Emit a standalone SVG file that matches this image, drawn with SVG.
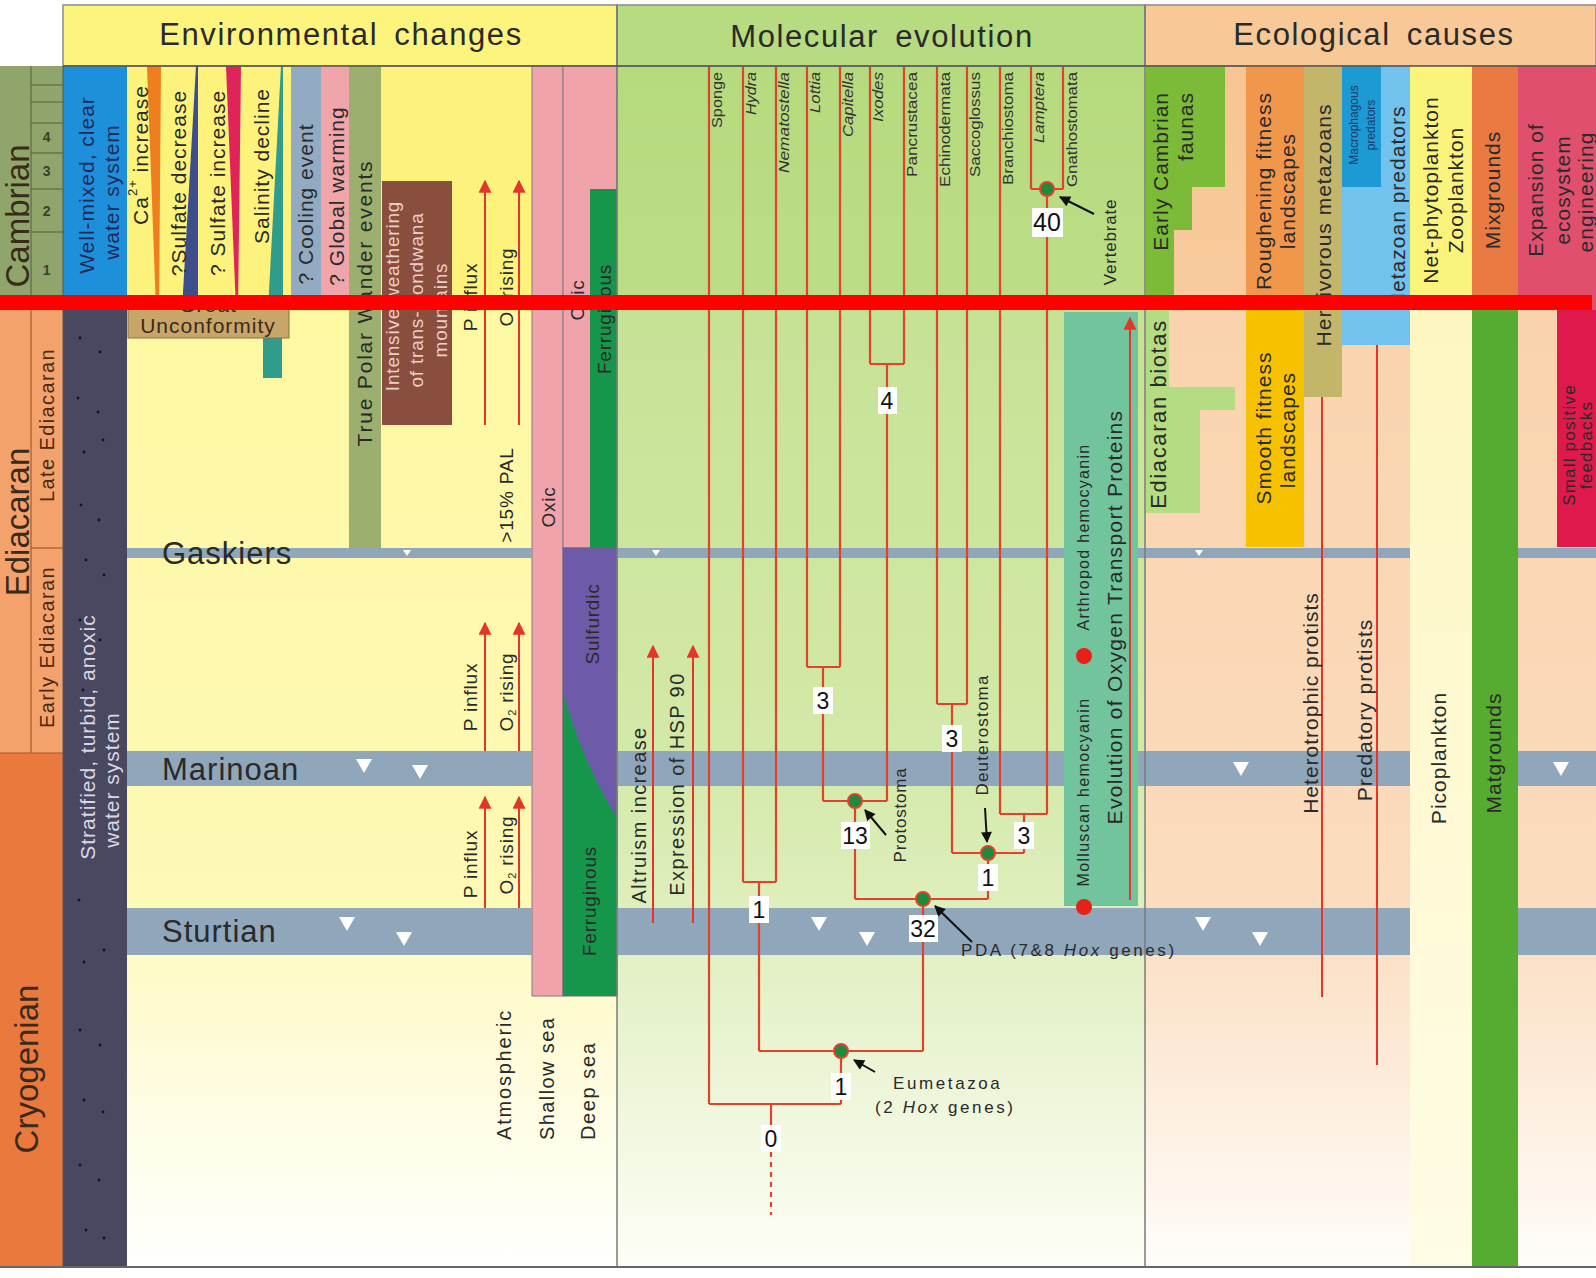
<svg xmlns="http://www.w3.org/2000/svg" width="1596" height="1278" viewBox="0 0 1596 1278">
<style>
  text { font-family: "Liberation Sans", Arial, Helvetica, sans-serif; fill: #2a2a2a; }
  .v { text-anchor: middle; dominant-baseline: central; }
  .ve { text-anchor: end; dominant-baseline: central; }
  .vs { text-anchor: start; dominant-baseline: central; }
  .hdr { font-size: 31px; letter-spacing: 1.6px; word-spacing: 6px; }
  .per { font-size: 33px; fill: #3a2a1a; }
  .glac { font-size: 31px; letter-spacing: 1px; fill: #2a2a2a; }
  .t21 { font-size: 21px; letter-spacing: 1px; }
  .t19 { font-size: 19px; letter-spacing: 0.8px; }
  .t17 { font-size: 17px; letter-spacing: 0.8px; }
  .t14 { font-size: 14px; letter-spacing: 0.6px; }
  .lbl { font-size: 17px; letter-spacing: 2.6px; }
  .bot { font-size: 20px; letter-spacing: 1.8px; }
  .taxon { font-size: 14px; fill: #333; }
  .num { font-size: 23px; text-anchor: middle; fill: #111; }
  .navy { fill: #1d2a58; }
  .pale { fill: #d8d8e2; }
  .box { fill: #ffffff; }
  .band { fill: #8fa6bb; }
  .tree { fill: none; stroke: #e0432c; stroke-width: 2.2; }
  .redln { fill: none; stroke: #e4352a; stroke-width: 2; }
  .blk { fill: none; stroke: #111; stroke-width: 2; }
  .node { fill: #1e8a3c; stroke: #e0432c; stroke-width: 2; }
  .sep { stroke: #7a7a7a; stroke-width: 1.5; }
  .tri { fill: #ffffff; }
  .dot { fill: #15131c; }
</style>
<defs>
  <marker id="redHeadL" viewBox="0 0 10 10" refX="9" refY="5" markerWidth="16" markerHeight="13" orient="auto" markerUnits="userSpaceOnUse">
    <path d="M0 0 L10 5 L0 10 Z" fill="#e4352a"/>
  </marker>
  <marker id="blkHead" viewBox="0 0 10 10" refX="9" refY="5" markerWidth="13" markerHeight="11" orient="auto" markerUnits="userSpaceOnUse">
    <path d="M0 0 L10 5 L0 10 Z" fill="#111"/>
  </marker>
  <linearGradient id="envBg" gradientUnits="userSpaceOnUse" x1="0" y1="67" x2="0" y2="1267">
    <stop offset="0" stop-color="#fcf27c"/>
    <stop offset="0.2" stop-color="#fcf27c"/>
    <stop offset="0.205" stop-color="#fdf8a2"/>
    <stop offset="0.69" stop-color="#fdf9b6"/>
    <stop offset="0.78" stop-color="#fefbd0"/>
    <stop offset="1" stop-color="#ffffff"/>
  </linearGradient>
  <linearGradient id="molBg" gradientUnits="userSpaceOnUse" x1="0" y1="67" x2="0" y2="1267">
    <stop offset="0" stop-color="#b6da7e"/>
    <stop offset="0.2" stop-color="#bcdd86"/>
    <stop offset="0.205" stop-color="#c6e295"/>
    <stop offset="0.57" stop-color="#d3e9a8"/>
    <stop offset="0.745" stop-color="#e2f0c4"/>
    <stop offset="1" stop-color="#fdfef6"/>
  </linearGradient>
  <linearGradient id="ecoBg" gradientUnits="userSpaceOnUse" x1="0" y1="67" x2="0" y2="1267">
    <stop offset="0" stop-color="#f7c593"/>
    <stop offset="0.2" stop-color="#f8cb9e"/>
    <stop offset="0.205" stop-color="#f9d3ad"/>
    <stop offset="0.7" stop-color="#fbdcbe"/>
    <stop offset="1" stop-color="#fffdfa"/>
  </linearGradient>
  <linearGradient id="picoBg" gradientUnits="userSpaceOnUse" x1="0" y1="310" x2="0" y2="1267">
    <stop offset="0" stop-color="#fdf6c0"/>
    <stop offset="1" stop-color="#fffce6"/>
  </linearGradient>
</defs>

<rect x="0" y="0" width="1596" height="1278" fill="#ffffff"/>

<!-- section backgrounds -->
<g id="backgrounds">
  <rect x="127" y="66" width="490" height="1201" fill="url(#envBg)"/>
  <rect x="617" y="66" width="528" height="1201" fill="url(#molBg)"/>
  <rect x="1145" y="66" width="451" height="1201" fill="url(#ecoBg)"/>
</g>

<!-- column headers -->
<g id="headers">
  <rect x="63" y="5" width="554" height="61" fill="#fdf47e" stroke="#8a8a8a" stroke-width="1.5"/>
  <rect x="617" y="5" width="528" height="61" fill="#b7db80" stroke="#8a8a8a" stroke-width="1.5"/>
  <rect x="1145" y="5" width="451" height="61" fill="#f8c896" stroke="#8a8a8a" stroke-width="1.5"/>
  <text class="hdr" x="341" y="45" text-anchor="middle">Environmental changes</text>
  <text class="hdr" x="882" y="47" text-anchor="middle">Molecular evolution</text>
  <text class="hdr" x="1374" y="45" text-anchor="middle">Ecological causes</text>
</g>

<!-- geological time scale -->
<g id="timescale">
  <rect x="0" y="66" width="63" height="244" fill="#8fa56b"/>
  <rect x="0" y="310" width="63" height="443" fill="#f3a26c"/>
  <rect x="0" y="753" width="63" height="514" fill="#e9793d"/>
  <g stroke="#5e6a44" stroke-width="1.2">
    <line x1="31" y1="66" x2="31" y2="310"/>
    <line x1="31" y1="85" x2="63" y2="85"/>
    <line x1="31" y1="102" x2="63" y2="102"/>
    <line x1="31" y1="123" x2="63" y2="123"/>
    <line x1="31" y1="153" x2="63" y2="153"/>
    <line x1="31" y1="189" x2="63" y2="189"/>
    <line x1="31" y1="232" x2="63" y2="232"/>
  </g>
  <g stroke="#a85a2e" stroke-width="1.2">
    <line x1="31" y1="310" x2="31" y2="753"/>
    <line x1="31" y1="548" x2="63" y2="548"/>
    <line x1="0" y1="753" x2="63" y2="753"/>
  </g>
  <text class="t14" x="47" y="142" text-anchor="middle" style="font-weight:bold;fill:#3d4030">4</text>
  <text class="t14" x="47" y="176" text-anchor="middle" style="font-weight:bold;fill:#3d4030">3</text>
  <text class="t14" x="47" y="216" text-anchor="middle" style="font-weight:bold;fill:#3d4030">2</text>
  <text class="t14" x="47" y="275" text-anchor="middle" style="font-weight:bold;fill:#3d4030">1</text>
  <text class="per v" transform="translate(17 216) rotate(-90)">Cambrian</text>
  <text class="per v" transform="translate(17 522) rotate(-90)">Ediacaran</text>
  <text class="per v" transform="translate(26 1069) rotate(-90)">Cryogenian</text>
  <text class="v" transform="translate(47 425) rotate(-90)" style="font-size:20px;letter-spacing:1.4px;fill:#4a2a14">Late Ediacaran</text>
  <text class="v" transform="translate(47 647) rotate(-90)" style="font-size:20px;letter-spacing:1.4px;fill:#4a2a14">Early Ediacaran</text>
</g>

<!-- environmental changes: water-column states -->
<g id="water-system">
  <rect x="63" y="66" width="64" height="244" fill="#1e90db"/>
  <rect x="63" y="310" width="64" height="957" fill="#4a4760"/>
  <g class="dot">
    <circle cx="80" cy="338" r="1.4"/><circle cx="100" cy="352" r="1.4"/><circle cx="78" cy="398" r="1.4"/>
    <circle cx="98" cy="412" r="1.4"/><circle cx="84" cy="452" r="1.4"/><circle cx="103" cy="440" r="1.4"/>
    <circle cx="81" cy="505" r="1.4"/><circle cx="99" cy="520" r="1.4"/><circle cx="86" cy="560" r="1.4"/>
    <circle cx="104" cy="575" r="1.4"/><circle cx="80" cy="620" r="1.4"/><circle cx="100" cy="640" r="1.4"/>
    <circle cx="83" cy="690" r="1.4"/><circle cx="79" cy="900" r="1.4"/><circle cx="84" cy="962" r="1.4"/>
    <circle cx="104" cy="950" r="1.4"/><circle cx="80" cy="1030" r="1.4"/><circle cx="100" cy="1045" r="1.4"/>
    <circle cx="84" cy="1100" r="1.4"/><circle cx="103" cy="1112" r="1.4"/><circle cx="80" cy="1165" r="1.4"/>
    <circle cx="99" cy="1180" r="1.4"/><circle cx="86" cy="1230" r="1.4"/><circle cx="104" cy="1238" r="1.4"/>
  </g>
  <text class="t21 v navy" transform="translate(86 185) rotate(-90)">Well-mixed, clear</text>
  <text class="t21 v navy" transform="translate(111 192) rotate(-90)">water system</text>
  <text class="t21 v pale" transform="translate(87 737) rotate(-90)">Stratified, turbid, anoxic</text>
  <text class="t21 v pale" transform="translate(111 780) rotate(-90)">water system</text>
</g>

<!-- environmental changes: Cambrian seawater chemistry and climate -->
<g id="seawater-chemistry">
  <polygon points="147,66 161,66 159,310 156,310" fill="#ef7f1e"/>
  <polygon points="196,66 198,66 198,310 182,310" fill="#3d4d8d"/>
  <polygon points="226,66 241,66 238,310 236,310" fill="#e0245a"/>
  <polygon points="281,66 283,66 283,310 268,310" fill="#2f9c8c"/>
  <rect x="263" y="310" width="19" height="68" fill="#2f9c8c"/>
  <rect x="291" y="66" width="30" height="244" fill="#93abc2"/>
  <rect x="321" y="66" width="28" height="244" fill="#f0a5aa"/>
  <text class="t21 v" transform="translate(140 155) rotate(-90)">Ca<tspan font-size="13" baseline-shift="super">2+</tspan> increase</text>
  <text class="t21 v" transform="translate(178 183) rotate(-90)">?Sulfate decrease</text>
  <text class="t21 v" transform="translate(217 183) rotate(-90)">? Sulfate increase</text>
  <text class="t21 v" transform="translate(261 166) rotate(-90)">Salinity decline</text>
  <text class="t21 v" transform="translate(305 204) rotate(-90)">? Cooling event</text>
  <text class="t21 v" transform="translate(336 196) rotate(-90)">? Global warming</text>
</g>

<g id="polar-wander">
  <rect x="349" y="66" width="32" height="482" fill="#9caf6e"/>
  <text class="t21 v" transform="translate(364 303) rotate(-90)" style="letter-spacing:1.8px">True Polar Wander events</text>
</g>

<g id="weathering">
  <rect x="382" y="181" width="70" height="244" fill="#8a4e3e"/>
  <text class="t19 v" transform="translate(392 296) rotate(-90)" style="fill:#ead0c8">Intensive weathering</text>
  <text class="t19 v" transform="translate(416 300) rotate(-90)" style="fill:#ead0c8">of trans-Gondwana</text>
  <text class="t19 v" transform="translate(440 310) rotate(-90)" style="fill:#ead0c8">mountains</text>
</g>

<g id="great-unconformity">
  <rect x="128" y="296" width="161" height="42" fill="#c8a66a" stroke="#8a7040" stroke-width="1"/>
  <text class="t21" x="208" y="312" text-anchor="middle" style="fill:#3a2a1a">Great</text>
  <text class="t21" x="208" y="333" text-anchor="middle" style="fill:#3a2a1a">Unconformity</text>
</g>

<!-- oxygenation of the ocean -->
<g id="shallow-sea">
  <rect x="532" y="66" width="31" height="930" fill="#f0a3aa" stroke="#8a7a7a" stroke-width="1"/>
  <text class="t19 v" transform="translate(548 507) rotate(-90)">Oxic</text>
</g>
<g id="deep-sea">
  <rect x="563" y="66" width="54" height="482" fill="#f0a3aa" stroke="#8a7a7a" stroke-width="1"/>
  <rect x="590" y="189" width="27" height="359" fill="#16964a"/>
  <rect x="563" y="548" width="54" height="448" fill="#6d5ba9" stroke="#6a6a7a" stroke-width="1"/>
  <path d="M563 693 Q583 763 617 818 L617 996 L563 996 Z" fill="#16964a"/>
  <text class="t19 v" transform="translate(577 300) rotate(-90)">Oxic</text>
  <text class="t19 v" transform="translate(604 319) rotate(-90)">Ferruginous</text>
  <text class="t19 v" transform="translate(592 624) rotate(-90)">Sulfurdic</text>
  <text class="t19 v" transform="translate(589 901) rotate(-90)">Ferruginous</text>
</g>

<!-- glaciations -->
<g id="glaciations">
  <rect class="band" x="127" y="548" width="405" height="10"/>
  <rect class="band" x="617" y="548" width="528" height="10"/>
  <rect class="band" x="1145" y="548" width="265" height="10"/>
  <rect class="band" x="1518" y="548" width="78" height="10"/>
  <rect class="band" x="127" y="751" width="405" height="35"/>
  <rect class="band" x="617" y="751" width="528" height="35"/>
  <rect class="band" x="1145" y="751" width="265" height="35"/>
  <rect class="band" x="1518" y="751" width="78" height="35"/>
  <rect class="band" x="127" y="908" width="405" height="47"/>
  <rect class="band" x="617" y="908" width="793" height="47"/>
  <rect class="band" x="1518" y="908" width="78" height="47"/>
  <text class="glac" x="162" y="564">Gaskiers</text>
  <text class="glac" x="162" y="780">Marinoan</text>
  <text class="glac" x="162" y="942">Sturtian</text>
  <g class="tri">
    <polygon points="403,550 411,550 407,556"/>
    <polygon points="652,550 660,550 656,556"/>
    <polygon points="1195,550 1203,550 1199,556"/>
    <polygon points="356,759 372,759 364,773"/>
    <polygon points="412,765 428,765 420,779"/>
    <polygon points="1233,762 1249,762 1241,776"/>
    <polygon points="1553,762 1569,762 1561,776"/>
    <polygon points="339,917 355,917 347,931"/>
    <polygon points="396,932 412,932 404,946"/>
    <polygon points="811,917 827,917 819,931"/>
    <polygon points="859,932 875,932 867,946"/>
    <polygon points="1195,917 1211,917 1203,931"/>
    <polygon points="1252,932 1268,932 1260,946"/>
  </g>
</g>

<!-- atmospheric trends -->
<g id="atmosphere">
  <line class="redln" x1="485" y1="425" x2="485" y2="181" marker-end="url(#redHeadL)"/>
  <line class="redln" x1="519" y1="425" x2="519" y2="181" marker-end="url(#redHeadL)"/>
  <line class="redln" x1="485" y1="751" x2="485" y2="623" marker-end="url(#redHeadL)"/>
  <line class="redln" x1="519" y1="751" x2="519" y2="623" marker-end="url(#redHeadL)"/>
  <line class="redln" x1="485" y1="908" x2="485" y2="797" marker-end="url(#redHeadL)"/>
  <line class="redln" x1="519" y1="908" x2="519" y2="797" marker-end="url(#redHeadL)"/>
  <text class="t19 v" transform="translate(470 297) rotate(-90)">P influx</text>
  <text class="t19 v" transform="translate(506 287) rotate(-90)">O<tspan font-size="11" baseline-shift="sub">2</tspan> rising</text>
  <text class="t19 v" transform="translate(506 495) rotate(-90)">&gt;15% PAL</text>
  <text class="t19 v" transform="translate(470 697) rotate(-90)">P influx</text>
  <text class="t19 v" transform="translate(506 692) rotate(-90)">O<tspan font-size="11" baseline-shift="sub">2</tspan> rising</text>
  <text class="t19 v" transform="translate(470 864) rotate(-90)">P influx</text>
  <text class="t19 v" transform="translate(506 855) rotate(-90)">O<tspan font-size="11" baseline-shift="sub">2</tspan> rising</text>
  <text class="bot vs" transform="translate(504 1140) rotate(-90)">Atmospheric</text>
  <text class="bot vs" transform="translate(547 1140) rotate(-90)" style="letter-spacing:1.4px">Shallow sea</text>
  <text class="bot vs" transform="translate(588 1140) rotate(-90)" style="letter-spacing:1.6px">Deep sea</text>
</g>

<!-- molecular evolution: physiological trends -->
<g id="physiology">
  <line class="redln" x1="653" y1="923" x2="653" y2="646" marker-end="url(#redHeadL)"/>
  <line class="redln" x1="693" y1="923" x2="693" y2="646" marker-end="url(#redHeadL)"/>
  <text class="v" transform="translate(639 815) rotate(-90)" style="font-size:20px;letter-spacing:1.4px">Altruism increase</text>
  <text class="v" transform="translate(677 784) rotate(-90)" style="font-size:20px;letter-spacing:1.4px">Expression of HSP 90</text>
</g>

<g id="oxygen-transport">
  <rect x="1064" y="312" width="74" height="594" fill="#72c49c"/>
  <line class="redln" x1="1130" y1="900" x2="1130" y2="318" marker-end="url(#redHeadL)"/>
  <text class="v" transform="translate(1114 617) rotate(-90)" style="font-size:21px;letter-spacing:1.3px">Evolution of Oxygen Transport Proteins</text>
  <text class="v" transform="translate(1083 537) rotate(-90)" style="font-size:16px;letter-spacing:1.3px">Arthropod hemocyanin</text>
  <text class="v" transform="translate(1083 792) rotate(-90)" style="font-size:16px;letter-spacing:1.3px">Molluscan hemocyanin</text>
  <circle cx="1084" cy="656" r="8" fill="#e8201a"/>
  <circle cx="1084" cy="907" r="8" fill="#e8201a"/>
</g>

<!-- phylogeny of Hox gene complements -->
<g id="connectors">
  <path class="tree" d="M709 67 V1104 M743 67 V882 M776 67 V882 M807 67 V667 M840 67 V667 M870 67 V364 M904 67 V364 M937 67 V704 M967 67 V704 M1000 67 V814 M1031 67 V189 M1063 67 V189"/>
  <path class="tree" d="M743 882 H776 M759 882 V1051 M807 667 H840 M823 667 V801 M870 364 H904 M887 364 V801 M823 801 H887 M855 801 V899 M937 704 H967 M952 704 V853 M1031 189 H1063 M1047 189 V814 M1000 814 H1047 M1024 814 V853 M952 853 H1024 M988 853 V899 M855 899 H988 M923 899 V1051 M759 1051 H923 M841 1051 V1104 M709 1104 H841 M771 1104 V1126"/>
  <path class="tree" d="M771 1152 V1215" stroke-dasharray="5 5"/>
  <line class="blk" x1="1094" y1="214" x2="1060" y2="197" marker-end="url(#blkHead)"/>
  <line class="blk" x1="886" y1="835" x2="865" y2="810" marker-end="url(#blkHead)"/>
  <line class="blk" x1="985" y1="808" x2="987" y2="842" marker-end="url(#blkHead)"/>
  <line class="blk" x1="972" y1="942" x2="935" y2="906" marker-end="url(#blkHead)"/>
  <line class="blk" x1="875" y1="1072" x2="854" y2="1060" marker-end="url(#blkHead)"/>
</g>

<g id="taxa">
  <text class="taxon ve" transform="translate(717 72) rotate(-90)" textLength="56" lengthAdjust="spacingAndGlyphs">Sponge</text>
  <text class="taxon ve" transform="translate(751 72) rotate(-90)" textLength="43" lengthAdjust="spacingAndGlyphs" font-style="italic">Hydra</text>
  <text class="taxon ve" transform="translate(784 72) rotate(-90)" textLength="101" lengthAdjust="spacingAndGlyphs" font-style="italic">Nematostella</text>
  <text class="taxon ve" transform="translate(815 72) rotate(-90)" textLength="41" lengthAdjust="spacingAndGlyphs" font-style="italic">Lottia</text>
  <text class="taxon ve" transform="translate(848 72) rotate(-90)" textLength="65" lengthAdjust="spacingAndGlyphs" font-style="italic">Capitella</text>
  <text class="taxon ve" transform="translate(878 72) rotate(-90)" textLength="50" lengthAdjust="spacingAndGlyphs" font-style="italic">Ixodes</text>
  <text class="taxon ve" transform="translate(912 72) rotate(-90)" textLength="105" lengthAdjust="spacingAndGlyphs">Pancrustacea</text>
  <text class="taxon ve" transform="translate(945 72) rotate(-90)" textLength="115" lengthAdjust="spacingAndGlyphs">Echinodermata</text>
  <text class="taxon ve" transform="translate(975 72) rotate(-90)" textLength="105" lengthAdjust="spacingAndGlyphs">Saccoglossus</text>
  <text class="taxon ve" transform="translate(1008 72) rotate(-90)" textLength="113" lengthAdjust="spacingAndGlyphs">Branchiostoma</text>
  <text class="taxon ve" transform="translate(1039 72) rotate(-90)" textLength="71" lengthAdjust="spacingAndGlyphs" font-style="italic">Lamptera</text>
  <text class="taxon ve" transform="translate(1072 72) rotate(-90)" textLength="115" lengthAdjust="spacingAndGlyphs">Gnathostomata</text>
</g>

<g id="node-vertebrate">
  <circle class="node" cx="1047" cy="189" r="7"/>
  <rect class="box" x="1032" y="208" width="31" height="29"/>
  <text class="num" x="1047" y="231" style="font-size:25px">40</text>
  <text class="t17 v" transform="translate(1110 242) rotate(-90)">Vertebrate</text>
</g>
<g id="node-arthropods">
  <rect class="box" x="878" y="387" width="19" height="27"/>
  <text class="num" x="887" y="409">4</text>
</g>
<g id="node-lophotrochozoa">
  <rect class="box" x="813" y="687" width="20" height="27"/>
  <text class="num" x="823" y="709">3</text>
</g>
<g id="node-ambulacraria">
  <rect class="box" x="942" y="725" width="20" height="27"/>
  <text class="num" x="952" y="747">3</text>
</g>
<g id="node-protostoma">
  <circle class="node" cx="855" cy="801" r="7"/>
  <rect class="box" x="841" y="822" width="29" height="27"/>
  <text class="num" x="855" y="844">13</text>
  <text class="t17 v" transform="translate(900 815) rotate(-90)">Protostoma</text>
</g>
<g id="node-chordata">
  <rect class="box" x="1014" y="822" width="20" height="27"/>
  <text class="num" x="1024" y="844">3</text>
</g>
<g id="node-deuterostoma">
  <circle class="node" cx="988" cy="853" r="7"/>
  <rect class="box" x="978" y="864" width="20" height="27"/>
  <text class="num" x="988" y="886">1</text>
  <text class="t17 v" transform="translate(982 735) rotate(-90)" style="letter-spacing:1.2px">Deuterostoma</text>
</g>
<g id="node-cnidaria">
  <rect class="box" x="749" y="896" width="20" height="27"/>
  <text class="num" x="759" y="918">1</text>
</g>
<g id="node-pda">
  <circle class="node" cx="923" cy="899" r="7"/>
  <rect class="box" x="909" y="915" width="29" height="27"/>
  <text class="num" x="923" y="937">32</text>
  <text class="lbl" x="961" y="956">PDA (7&amp;8 <tspan font-style="italic">Hox</tspan> genes)</text>
</g>
<g id="node-eumetazoa">
  <circle class="node" cx="841" cy="1051" r="7"/>
  <rect class="box" x="831" y="1073" width="20" height="27"/>
  <text class="num" x="841" y="1095">1</text>
  <text class="lbl" x="893" y="1089">Eumetazoa</text>
  <text class="lbl" x="875" y="1113">(2 <tspan font-style="italic">Hox</tspan> genes)</text>
</g>
<g id="node-root">
  <rect class="box" x="761" y="1125" width="20" height="27"/>
  <text class="num" x="771" y="1147">0</text>
</g>

<!-- ecological causes -->
<g id="faunas">
  <path d="M1146 66 H1225 V187 H1192 V230 H1174 V310 H1146 Z" fill="#7bbb37"/>
  <path d="M1146 310 H1169 V387 H1235 V410 H1200 V513 H1146 Z" fill="#b4dc82"/>
  <text class="t21 ve" transform="translate(1160 92) rotate(-90)">Early Cambrian</text>
  <text class="t21 ve" transform="translate(1185 92) rotate(-90)">faunas</text>
  <text class="v" transform="translate(1158 414) rotate(-90)" style="font-size:22px;letter-spacing:1.6px">Ediacaran biotas</text>
</g>
<g id="fitness">
  <rect x="1246" y="66" width="58" height="244" fill="#f0974c"/>
  <rect x="1246" y="310" width="58" height="237" fill="#f6c200"/>
  <text class="t21 v" transform="translate(1263 191) rotate(-90)">Roughening fitness</text>
  <text class="t21 v" transform="translate(1287 191) rotate(-90)">landscapes</text>
  <text class="t21 v" transform="translate(1263 428) rotate(-90)">Smooth fitness</text>
  <text class="t21 v" transform="translate(1287 430) rotate(-90)">landscapes</text>
</g>
<g id="heterotrophs">
  <rect x="1304" y="66" width="38" height="331" fill="#c3b66b"/>
  <line x1="1322" y1="397" x2="1322" y2="997" stroke="#e4352a" stroke-width="2"/>
  <text class="t21 v" transform="translate(1323 225) rotate(-90)">Herbivorous metazoans</text>
  <text class="t21 v" transform="translate(1310 703) rotate(-90)">Heterotrophic protists</text>
</g>
<g id="predators">
  <rect x="1342" y="66" width="68" height="279" fill="#72c2ee"/>
  <rect x="1342" y="66" width="39" height="121" fill="#1b9ad4"/>
  <line x1="1377" y1="345" x2="1377" y2="1065" stroke="#e4352a" stroke-width="2"/>
  <text class="v" transform="translate(1354 125) rotate(-90)" style="font-size:12px;fill:#1d3a6a">Macrophagous</text>
  <text class="v" transform="translate(1371 125) rotate(-90)" style="font-size:12px;fill:#1d3a6a">predators</text>
  <text class="t21 v" transform="translate(1397 208) rotate(-90)">Metazoan predators</text>
  <text class="t21 v" transform="translate(1364 710) rotate(-90)">Predatory protists</text>
</g>
<g id="plankton">
  <rect x="1410" y="66" width="62" height="244" fill="#fbf47c"/>
  <rect x="1410" y="310" width="62" height="957" fill="url(#picoBg)"/>
  <text class="t21 v" transform="translate(1430 190) rotate(-90)">Net-phytoplankton</text>
  <text class="t21 v" transform="translate(1455 190) rotate(-90)">Zooplankton</text>
  <text class="t21 v" transform="translate(1438 758) rotate(-90)">Picoplankton</text>
</g>
<g id="substrates">
  <rect x="1472" y="66" width="46" height="244" fill="#e87a42"/>
  <rect x="1472" y="310" width="46" height="957" fill="#56ab31"/>
  <text class="t21 v" transform="translate(1492 190) rotate(-90)">Mixgrounds</text>
  <text class="t21 v" transform="translate(1493 753) rotate(-90)">Matgrounds</text>
</g>
<g id="feedbacks">
  <rect x="1518" y="66" width="78" height="244" fill="#e0506e"/>
  <rect x="1557" y="310" width="39" height="237" fill="#e0194c"/>
  <text class="t21 v" transform="translate(1535 190) rotate(-90)">Expansion of</text>
  <text class="t21 v" transform="translate(1562 190) rotate(-90)">ecosystem</text>
  <text class="t21 v" transform="translate(1585 192) rotate(-90)">engineering</text>
  <text class="v" transform="translate(1569 445) rotate(-90)" style="font-size:17px;letter-spacing:1.2px">Small positive</text>
  <text class="v" transform="translate(1586 445) rotate(-90)" style="font-size:17px;letter-spacing:1.2px">feedbacks</text>
</g>

<!-- frame lines -->
<g id="frame">
  <line class="sep" x1="617" y1="5" x2="617" y2="1267"/>
  <line class="sep" x1="1145" y1="5" x2="1145" y2="1267"/>
  <line x1="63" y1="66" x2="1596" y2="66" stroke="#555" stroke-width="1.5"/>
  <line x1="0" y1="1267" x2="1596" y2="1267" stroke="#666" stroke-width="2"/>
  <line x1="63" y1="66" x2="63" y2="1267" stroke="#555" stroke-width="1"/>
</g>

<!-- boundary marker across the chart -->
<rect id="boundary-bar" x="0" y="295" width="1592" height="15" fill="#ff0000"/>
</svg>
